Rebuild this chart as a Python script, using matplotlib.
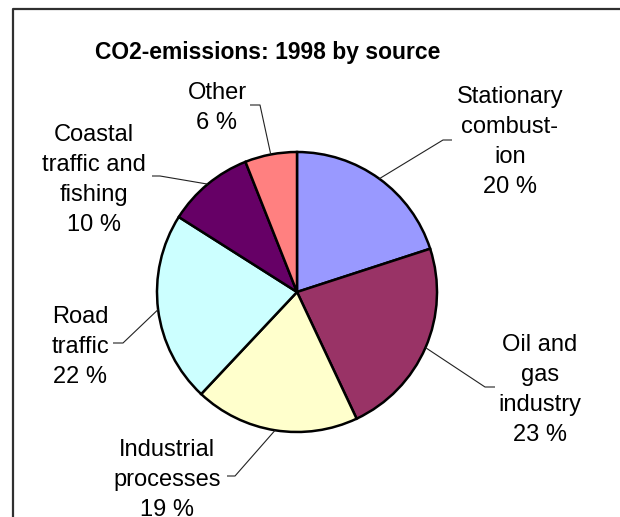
import numpy as np
import matplotlib
matplotlib.use("Agg")
import matplotlib.pyplot as plt

# CO2 emissions 1998, share by source (percent)
sources = ["Stationary\ncombust-\nion", "Oil and\ngas\nindustry", "Industrial\nprocesses",
           "Road\ntraffic", "Coastal\ntraffic and\nfishing", "Other"]
shares = [20, 23, 19, 22, 10, 6]
colors = ["#9999FF", "#993366", "#FFFFCC", "#CCFFFF", "#660066", "#FF8080"]

W, H = 620, 517
fig = plt.figure(figsize=(W / 100, H / 100), dpi=100)
ax = fig.add_axes([0, 0, 1, 1])

# work in pixel units, y measured from the top
cx, cy, r = 297, 292, 140

wedges, _ = ax.pie(shares, colors=colors, startangle=90, counterclock=False,
                   center=(cx, H - cy), radius=r, frame=True,
                   wedgeprops=dict(edgecolor="black", linewidth=1.8))
ax.set_xlim(0, W)
ax.set_ylim(0, H)
ax.axis("off")

# label centre, elbow point, end of leader (pixel coords from top)
label_pos = [(510, 142), (540, 390), (167, 480), (80, 347), (94, 180), (217, 108)]
elbows = [((443, 140), (452, 140)), ((485, 387), (495, 387)), ((235, 476), (227, 476)),
          ((123, 343), (113, 343)), ((160, 176), (152, 176)), ((260, 105), (250, 105))]

for w, name, val, (lx, ly), (e1, e2) in zip(wedges, sources, shares, label_pos, elbows):
    mid = np.deg2rad((w.theta1 + w.theta2) / 2)
    px = cx + r * np.cos(mid)
    py = H - cy + r * np.sin(mid)
    ax.plot([px, e1[0], e2[0]], [py, H - e1[1], H - e2[1]], color="#222222",
            linewidth=0.8, solid_capstyle="butt")
    ax.text(lx, H - ly, f"{name}\n{val} %", ha="center", va="center",
            fontsize=17, family="Liberation Sans", linespacing=1.46)

ax.text(268, H - 53, "CO2-emissions: 1998 by source", ha="center", va="center",
        fontsize=16.5, fontweight="bold", family="Liberation Sans")

# chart border (open to the right and bottom)
ax.plot([13, 13, W + 5], [-5, H - 9, H - 9], color="#303030", linewidth=1.6,
        clip_on=False)

fig.savefig("out.png", dpi=100)
